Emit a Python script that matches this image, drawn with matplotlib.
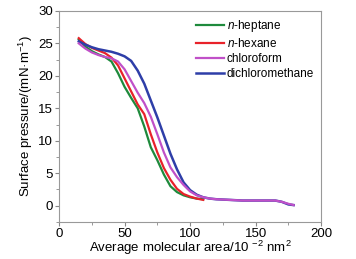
import matplotlib
matplotlib.use('Agg')
import matplotlib.pyplot as plt
from matplotlib.ticker import MultipleLocator

plt.rcParams['font.family'] = ['Liberation Sans', 'DejaVu Sans']
plt.rcParams['mathtext.fontset'] = 'custom'
plt.rcParams['mathtext.rm'] = 'Liberation Sans'
plt.rcParams['mathtext.it'] = 'Liberation Sans:italic'

# pi-A isotherms
heptane_x = [15, 20, 25, 30, 35, 40, 45, 50, 55, 60, 65, 70, 75, 80, 85, 90, 95, 100, 105, 110]
heptane_y = [25.6, 24.5, 23.8, 23.3, 22.9, 22.2, 20.4, 18.3, 16.6, 15.0, 12.2, 9.0, 7.0, 4.8, 3.0, 2.1, 1.6, 1.3, 1.1, 1.0]

hexane_x = [15, 20, 25, 30, 35, 40, 45, 50, 55, 60, 65, 70, 75, 80, 85, 90, 95, 100, 105, 110]
hexane_y = [25.8, 24.9, 24.3, 23.9, 23.5, 22.8, 21.6, 19.6, 17.6, 15.6, 14.1, 11.0, 8.2, 5.8, 4.0, 2.6, 1.8, 1.4, 1.1, 0.9]

chloro_x = [15, 20, 25, 30, 35, 40, 45, 50, 55, 60, 65, 70, 75, 80, 85, 90, 95, 100, 105, 110,
            115, 120, 130, 140, 150, 160, 165, 170, 175, 179]
chloro_y = [25.0, 24.2, 23.6, 23.2, 22.9, 22.7, 22.2, 21.0, 19.2, 17.4, 15.8, 13.7, 11.0, 8.2, 5.9, 4.4, 3.2, 2.2, 1.6, 1.3,
            1.1, 1.0, 0.9, 0.8, 0.8, 0.8, 0.8, 0.6, 0.3, 0.1]

dcm_x = [15, 20, 25, 30, 35, 40, 45, 50, 55, 60, 65, 70, 75, 80, 85, 90, 95, 100, 105, 110,
         115, 120, 130, 140, 150, 160, 165, 170, 175, 179]
dcm_y = [25.3, 24.8, 24.4, 24.1, 23.9, 23.7, 23.4, 23.0, 22.3, 20.8, 18.8, 16.2, 13.6, 10.8, 8.0, 5.6, 3.6, 2.4, 1.7, 1.3,
         1.1, 1.0, 0.9, 0.8, 0.8, 0.8, 0.8, 0.6, 0.2, 0.1]

fig = plt.figure(figsize=(3.56, 2.59), dpi=100)
ax = fig.add_axes([0.166, 0.143, 0.736, 0.815])

ax.plot(heptane_x, heptane_y, color='#1e8a3c', lw=1.6, label='$n$-heptane')
ax.plot(hexane_x, hexane_y, color='#e8222a', lw=1.6, label='$n$-hexane')
ax.plot(dcm_x, dcm_y, color='#2e3ea8', lw=1.8, label='dichloromethane')
ax.plot(chloro_x, chloro_y, color='#c050c8', lw=1.6, label='chloroform')

ax.set_xlim(0, 200)
ax.set_ylim(-2.5, 30)
ax.xaxis.set_major_locator(MultipleLocator(50))
ax.xaxis.set_minor_locator(MultipleLocator(25))
ax.yaxis.set_major_locator(MultipleLocator(5))
ax.yaxis.set_minor_locator(MultipleLocator(2.5))
ax.tick_params(which='both', direction='out', color='#888888', labelsize=9.5, pad=1.5)
ax.tick_params(which='major', length=3)
ax.tick_params(which='minor', length=2)
for s in ax.spines.values():
    s.set_color('#999999')
    s.set_linewidth(0.8)

ax.set_xlabel('Average molecular area/10 $^{-2}$ nm$^{2}$', fontsize=9.5, labelpad=-1)
ax.set_ylabel('Surface pressure/(mN·m$^{-1}$)', fontsize=9.5, labelpad=2)

h, l = ax.get_legend_handles_labels()
order = [0, 1, 3, 2]
ax.legend([h[i] for i in order], [l[i] for i in order], loc='upper right', frameon=False,
          fontsize=8.5, handlelength=2.4, handletextpad=0.2, labelspacing=0.25,
          borderaxespad=0.2, bbox_to_anchor=(1.0, 1.0))

fig.savefig('out.png', dpi=100)
